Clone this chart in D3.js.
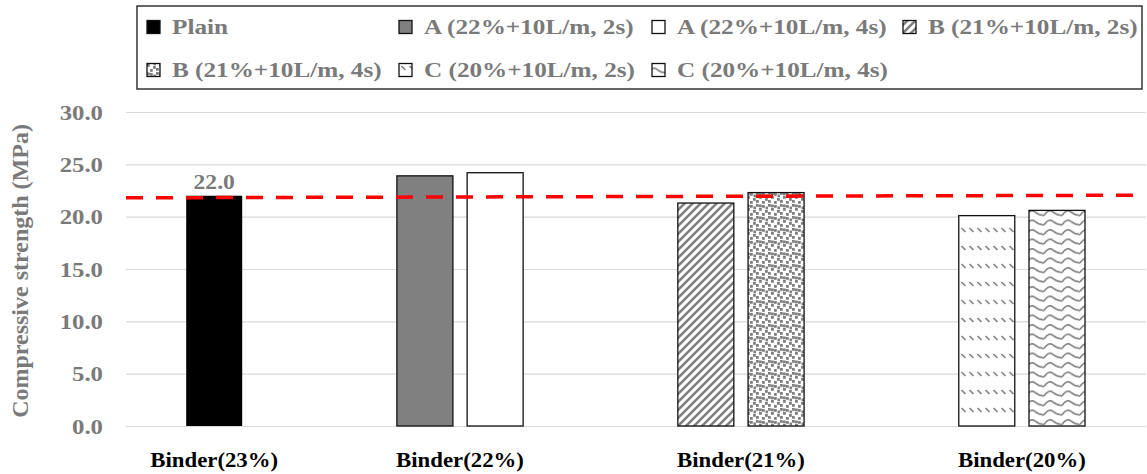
<!DOCTYPE html>
<html>
<head>
<meta charset="utf-8">
<script src="https://cdn.jsdelivr.net/npm/d3@7"></script>
<style>
  html, body { margin: 0; padding: 0; background: #fff; }
  svg { display: block; }
  text { font-family: "Liberation Serif", "Times New Roman", serif; font-weight: bold; }
</style>
</head>
<body>
<svg id="chart" width="1147" height="474"></svg>
<script>
// ---------- data ----------
const categories = ["Binder(23%)", "Binder(22%)", "Binder(21%)", "Binder(20%)"];
const seriesNames = ["Plain", "A (22%+10L/m, 2s)", "A (22%+10L/m, 4s)", "B (21%+10L/m, 2s)",
                     "B (21%+10L/m, 4s)", "C (20%+10L/m, 2s)", "C (20%+10L/m, 4s)"];
const seriesValues = [22.0, 23.9, 24.2, 21.3, 22.3, 20.1, 20.6];
const seriesCategory = [0, 1, 1, 2, 2, 3, 3];
const seriesFill = ["solid-black", "solid-gray", "white", "stripe", "confetti", "dashdiag", "wave"];
const dataLabels = ["22.0", null, null, null, null, null, null];
const yTicks = [0, 5, 10, 15, 20, 25, 30];
const refLine = [21.8, 22.05]; // dashed red reference line, start / end of plot
const yTitle = "Compressive strength (MPa)";

// ---------- layout ----------
const svg = d3.select("#chart");
const plotLeft = 126, plotRight = 1146, plotTop = 112, plotBottom = 426;
const gray = "#7a7a7a";
const sx = 1.18; // horizontal stretch of the text, as in the original picture

const y = d3.scaleLinear().domain([0, 30]).range([plotBottom, plotTop]);
// slot index: series order plus two empty slots between categories
const slot = seriesNames.map((_, i) => i + 2 * seriesCategory[i]);
const x = d3.scaleLinear().domain([0, 12]).range([214.2, 1057]);
const barW = 56;

// ---------- patterns ----------
const defs = svg.append("defs");
const pg = "#808080";
// diagonal stripes "/"
let p = defs.append("pattern").attr("id", "stripe").attr("patternUnits", "userSpaceOnUse")
  .attr("width", 8).attr("height", 8);
p.append("rect").attr("width", 8).attr("height", 8).attr("fill", "#fff");
p.append("path").attr("d", "M-2,2 L2,-2 M0,8 L8,0 M6,10 L10,6").attr("stroke", pg).attr("stroke-width", 2.6);
// confetti
p = defs.append("pattern").attr("id", "confetti").attr("patternUnits", "userSpaceOnUse")
  .attr("width", 12).attr("height", 12);
p.append("rect").attr("width", 12).attr("height", 12).attr("fill", "#fff");
[[0,0],[6,1],[3,4],[9,6],[0,8],[6,9],[3,0.5],[9.5,2.5]].forEach(([a,b]) =>
  p.append("rect").attr("x", a).attr("y", b).attr("width", 2.8).attr("height", 2.8).attr("fill", pg));
// dashed downward diagonal
p = defs.append("pattern").attr("id", "dashdiag").attr("patternUnits", "userSpaceOnUse")
  .attr("width", 8).attr("height", 18);
p.append("rect").attr("width", 8).attr("height", 18).attr("fill", "#fff");
p.append("path").attr("d", "M1.5,12 L5.5,16").attr("stroke", pg).attr("stroke-width", 1.6);
// wave
p = defs.append("pattern").attr("id", "wave").attr("patternUnits", "userSpaceOnUse")
  .attr("width", 18).attr("height", 9.5);
p.append("rect").attr("width", 18).attr("height", 9.5).attr("fill", "#fff");
p.append("path").attr("d", "M0,6.5 Q4.5,-0.5 9,3 T18,6.5").attr("fill", "none")
  .attr("stroke", pg).attr("stroke-width", 1.6);

function fillOf(k) {
  if (k === "solid-black") return "#000";
  if (k === "solid-gray") return "#808080";
  if (k === "white") return "#fff";
  return `url(#${k})`;
}

// ---------- gridlines ----------
svg.append("g").selectAll("line").data(yTicks).join("line")
  .attr("x1", plotLeft).attr("x2", plotRight)
  .attr("y1", d => y(d) + 0.5).attr("y2", d => y(d) + 0.5)
  .attr("stroke", "#d9d9d9").attr("stroke-width", 1.2);

// y axis tick labels
const yAxis = d3.axisLeft(y).tickValues(yTicks).tickFormat(d3.format(".1f")).tickSize(0).tickPadding(0);
const yg = svg.append("g").attr("transform", `translate(103,0)`).call(yAxis);
yg.select(".domain").remove();
yg.selectAll("text").attr("fill", gray).attr("font-size", 21)
  .attr("font-family", "Liberation Serif").attr("font-weight", "bold").attr("dy", "0.34em")
  .attr("transform", `scale(${sx},1)`);

// y title
svg.append("text").attr("transform", `translate(28,${(plotTop + plotBottom) / 2 + 2}) rotate(-90)`)
  .attr("text-anchor", "middle").attr("fill", gray).attr("font-size", 24).text(yTitle);

// ---------- bars ----------
svg.append("g").selectAll("rect").data(seriesValues).join("rect")
  .attr("x", (d, i) => x(slot[i]) - barW / 2)
  .attr("y", d => y(d))
  .attr("width", barW)
  .attr("height", d => y(0) - y(d))
  .attr("fill", (d, i) => fillOf(seriesFill[i]))
  .attr("stroke", (d, i) => i === 0 ? "none" : "#111")
  .attr("stroke-width", 1.3);

// data labels
svg.append("g").selectAll("text").data(seriesValues.map((v, i) => ({v, i})).filter(d => dataLabels[d.i]))
  .join("text")
  .attr("transform", d => `translate(${x(slot[d.i])},${y(d.v) - 7}) scale(${sx},1)`)
  .attr("text-anchor", "middle").attr("fill", gray).attr("font-size", 20)
  .text(d => dataLabels[d.i]);

// reference line
const xr = d3.scaleLinear().domain([0, 1]).range([plotLeft, plotRight]);
svg.append("line")
  .attr("x1", xr(0)).attr("x2", xr(1))
  .attr("y1", y(refLine[0])).attr("y2", y(refLine[1]))
  .attr("stroke", "#ff0000").attr("stroke-width", 3.5).attr("stroke-dasharray", "17,13");

// category labels
svg.append("g").selectAll("text").data(categories).join("text")
  .attr("transform", (c, ci) => {
    const cx = d3.mean(slot.filter((s, i) => seriesCategory[i] === ci), s => x(s));
    return `translate(${cx},467) scale(1.14,1)`;
  })
  .attr("text-anchor", "middle").attr("fill", "#000").attr("font-size", 20)
  .text(d => d);

// ---------- legend ----------
const lg = svg.append("g");
lg.append("rect").attr("x", 137).attr("y", 6).attr("width", 1005).attr("height", 83)
  .attr("fill", "#fff").attr("stroke", "#333").attr("stroke-width", 1.5);
const colX = [147, 399, 652, 903];
const rowY = [27, 70];
seriesNames.forEach((name, i) => {
  const c = i % 4, r = Math.floor(i / 4);
  lg.append("rect").attr("x", colX[c]).attr("y", rowY[r] - 6.5).attr("width", 13).attr("height", 13)
    .attr("fill", fillOf(seriesFill[i])).attr("stroke", "#111").attr("stroke-width", 1.3);
  lg.append("text").attr("transform", `translate(${colX[c] + 25},${rowY[r]}) scale(1.2,1)`)
    .attr("dy", "0.35em").attr("fill", gray).attr("font-size", 21).text(name);
});
</script>
</body>
</html>
